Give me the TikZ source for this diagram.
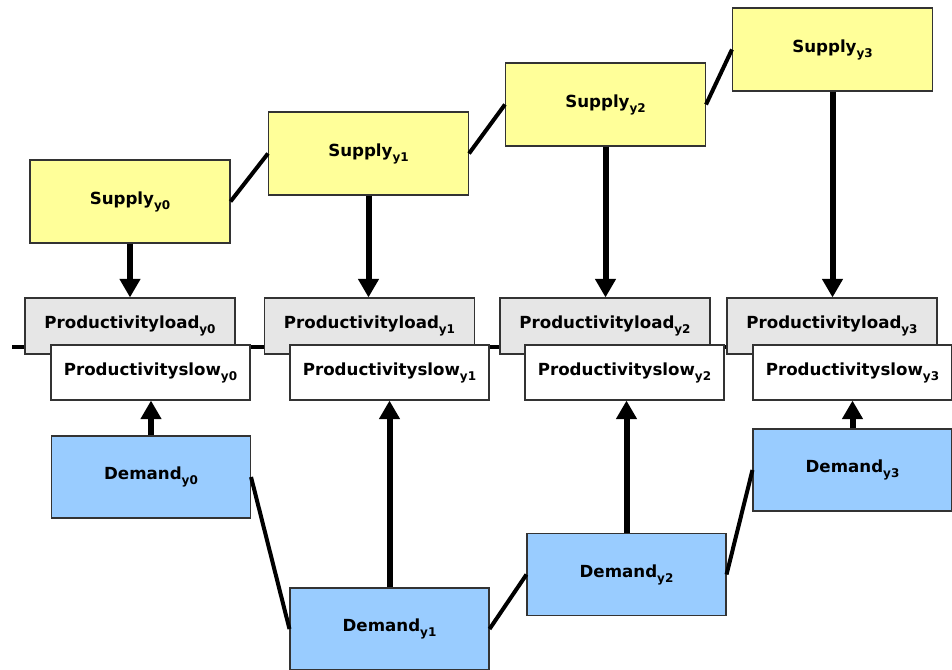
\documentclass[tikz,border=0pt]{standalone}
\usepackage{fontspec}
\setmainfont{DejaVu Sans}
\usetikzlibrary{arrows.meta}
\definecolor{supfill}{HTML}{FFFF99}
\definecolor{loadfill}{HTML}{E6E6E6}
\definecolor{demfill}{HTML}{99CCFF}
\newcommand{\yr}[1]{\raisebox{-.55ex}{\fontsize{9}{10}\selectfont y#1}}
\begin{document}
\begin{tikzpicture}[x=.75pt,y=-.75pt,font=\bfseries\fontsize{12.5}{14}\selectfont,
 box/.style={draw=black!80,line width=.8pt,inner sep=0pt},
 supbox/.style={box,fill=supfill,minimum width=150pt,minimum height=62.25pt},
 loadbox/.style={box,fill=loadfill,minimum width=157.5pt,minimum height=42pt},
 slowbox/.style={box,fill=white,minimum width=149.25pt,minimum height=41.25pt},
 dembox/.style={box,fill=demfill,minimum width=149.25pt,minimum height=61.5pt},
 link/.style={line width=3pt},
 up/.style={line width=4.5pt,-{Triangle[width=15pt,length=14pt]}}]
\useasboundingbox (0,0) rectangle (952,670);
\coordinate (axl) at (12,347); \coordinate (axr) at (952,347);
\draw[line width=3.5pt] (axl) -- (axr);
\foreach \i/\sx/\sy/\lx/\wx/\dx/\dy in {0/130/201.5/130/150.5/151/477, 1/368.5/153.5/369.5/389.5/389.5/629,
  2/605.5/104.5/605/624.5/626.5/574.5, 3/832.5/49.5/832/852.5/852.5/470}{
 \node[supbox] (s\i) at (\sx,\sy) {Supply\yr{\i}};
 \node[loadbox] (l\i) at (\lx,326) {Productivityload\yr{\i}};
 \node[slowbox] (w\i) at (\wx,372.5) {Productivityslow\yr{\i}};
 \node[dembox] (d\i) at (\dx,\dy) {Demand\yr{\i}};
 \draw[up] (s\i.south) -- (s\i.south |- l\i.north);
 \draw[up] (d\i.north) -- (d\i.north |- w\i.south);
}
\foreach \a/\b in {0/1, 1/2, 2/3}{
 \draw[link] (s\a.east) -- (s\b.west);
 \draw[link] (d\a.east) -- (d\b.west);
}
\end{tikzpicture}
\end{document}
